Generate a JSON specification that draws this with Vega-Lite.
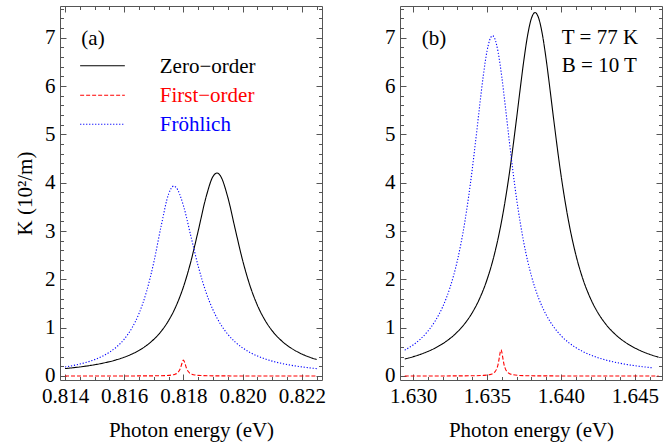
{
  "$schema": "https://vega.github.io/schema/vega-lite/v6.json",
  "padding": {"left": 14, "top": 5, "right": 5, "bottom": 5},
  "datasets": {
    "left": [
      {"s":"Zero−order","x":0.81400,"y":0.1537},{"s":"Zero−order","x":0.81425,"y":0.1693},{"s":"Zero−order","x":0.81450,"y":0.1872},{"s":"Zero−order","x":0.81475,"y":0.2081},{"s":"Zero−order","x":0.81500,"y":0.2326},{"s":"Zero−order","x":0.81525,"y":0.2616},{"s":"Zero−order","x":0.81550,"y":0.2963},{"s":"Zero−order","x":0.81575,"y":0.3381},{"s":"Zero−order","x":0.81600,"y":0.3890},{"s":"Zero−order","x":0.81625,"y":0.4519},{"s":"Zero−order","x":0.81650,"y":0.5305},{"s":"Zero−order","x":0.81675,"y":0.6302},{"s":"Zero−order","x":0.81700,"y":0.7585},{"s":"Zero−order","x":0.81725,"y":0.9263},{"s":"Zero−order","x":0.81750,"y":1.1485},{"s":"Zero−order","x":0.81775,"y":1.4463},{"s":"Zero−order","x":0.81800,"y":1.8446},{"s":"Zero−order","x":0.81825,"y":2.3670},{"s":"Zero−order","x":0.81850,"y":3.0066},{"s":"Zero−order","x":0.81875,"y":3.6701},{"s":"Zero−order","x":0.81900,"y":4.1302},{"s":"Zero−order","x":0.81913,"y":4.2},{"s":"Zero−order","x":0.81925,"y":4.1404},{"s":"Zero−order","x":0.81950,"y":3.6943},{"s":"Zero−order","x":0.81975,"y":3.0338},{"s":"Zero−order","x":0.82000,"y":2.3906},{"s":"Zero−order","x":0.82025,"y":1.8630},{"s":"Zero−order","x":0.82050,"y":1.4599},{"s":"Zero−order","x":0.82075,"y":1.1588},{"s":"Zero−order","x":0.82100,"y":0.9340},{"s":"Zero−order","x":0.82125,"y":0.7644},{"s":"Zero−order","x":0.82150,"y":0.6347},{"s":"Zero−order","x":0.82175,"y":0.5341},{"s":"Zero−order","x":0.82200,"y":0.4547},{"s":"Zero−order","x":0.82225,"y":0.3913},{"s":"Zero−order","x":0.82250,"y":0.3399},
      {"s":"First−order","x":0.8140,"y":0.0002},{"s":"First−order","x":0.8160,"y":0.0008},{"s":"First−order","x":0.8170,"y":0.0033},{"s":"First−order","x":0.8174,"y":0.0089},{"s":"First−order","x":0.8176,"y":0.0194},{"s":"First−order","x":0.8177,"y":0.033},{"s":"First−order","x":0.8178,"y":0.066},{"s":"First−order","x":0.81785,"y":0.1015},{"s":"First−order","x":0.8179,"y":0.165},{"s":"First−order","x":0.81795,"y":0.264},{"s":"First−order","x":0.8180,"y":0.33},{"s":"First−order","x":0.81805,"y":0.264},{"s":"First−order","x":0.8181,"y":0.165},{"s":"First−order","x":0.81815,"y":0.1015},{"s":"First−order","x":0.8182,"y":0.066},{"s":"First−order","x":0.8183,"y":0.033},{"s":"First−order","x":0.8184,"y":0.0194},{"s":"First−order","x":0.8186,"y":0.0089},{"s":"First−order","x":0.8190,"y":0.0033},{"s":"First−order","x":0.8200,"y":0.0008},{"s":"First−order","x":0.8225,"y":0.0002},
      {"s":"Fröhlich","x":0.81400,"y":0.1869},{"s":"Fröhlich","x":0.81425,"y":0.2136},{"s":"Fröhlich","x":0.81450,"y":0.2465},{"s":"Fröhlich","x":0.81475,"y":0.2873},{"s":"Fröhlich","x":0.81500,"y":0.3388},{"s":"Fröhlich","x":0.81525,"y":0.4048},{"s":"Fröhlich","x":0.81550,"y":0.4911},{"s":"Fröhlich","x":0.81575,"y":0.6063},{"s":"Fröhlich","x":0.81600,"y":0.7634},{"s":"Fröhlich","x":0.81625,"y":0.9828},{"s":"Fröhlich","x":0.81650,"y":1.2945},{"s":"Fröhlich","x":0.81675,"y":1.7397},{"s":"Fröhlich","x":0.81700,"y":2.3567},{"s":"Fröhlich","x":0.81725,"y":3.1134},{"s":"Fröhlich","x":0.81750,"y":3.7681},{"s":"Fröhlich","x":0.81767,"y":3.93},{"s":"Fröhlich","x":0.81775,"y":3.9035},{"s":"Fröhlich","x":0.81800,"y":3.5224},{"s":"Fröhlich","x":0.81825,"y":2.8950},{"s":"Fröhlich","x":0.81850,"y":2.2688},{"s":"Fröhlich","x":0.81875,"y":1.7547},{"s":"Fröhlich","x":0.81900,"y":1.3646},{"s":"Fröhlich","x":0.81925,"y":1.0758},{"s":"Fröhlich","x":0.81950,"y":0.8620},{"s":"Fröhlich","x":0.81975,"y":0.7020},{"s":"Fröhlich","x":0.82000,"y":0.5805},{"s":"Fröhlich","x":0.82025,"y":0.4867},{"s":"Fröhlich","x":0.82050,"y":0.4132},{"s":"Fröhlich","x":0.82075,"y":0.3546},{"s":"Fröhlich","x":0.82100,"y":0.3074},{"s":"Fröhlich","x":0.82125,"y":0.2688},{"s":"Fröhlich","x":0.82150,"y":0.2369},{"s":"Fröhlich","x":0.82175,"y":0.2102},{"s":"Fröhlich","x":0.82200,"y":0.1878},{"s":"Fröhlich","x":0.82225,"y":0.1687},{"s":"Fröhlich","x":0.82250,"y":0.1524}
    ],
    "right": [
      {"s":"Zero−order","x":1.62944,"y":0.3512},{"s":"Zero−order","x":1.63000,"y":0.3979},{"s":"Zero−order","x":1.63050,"y":0.4476},{"s":"Zero−order","x":1.63100,"y":0.5074},{"s":"Zero−order","x":1.63150,"y":0.5793},{"s":"Zero−order","x":1.63200,"y":0.6673},{"s":"Zero−order","x":1.63250,"y":0.7757},{"s":"Zero−order","x":1.63300,"y":0.9116},{"s":"Zero−order","x":1.63350,"y":1.0845},{"s":"Zero−order","x":1.63400,"y":1.3078},{"s":"Zero−order","x":1.63450,"y":1.6007},{"s":"Zero−order","x":1.63500,"y":1.9905},{"s":"Zero−order","x":1.63550,"y":2.5159},{"s":"Zero−order","x":1.63600,"y":3.2261},{"s":"Zero−order","x":1.63650,"y":4.1653},{"s":"Zero−order","x":1.63700,"y":5.3299},{"s":"Zero−order","x":1.63725,"y":5.954},{"s":"Zero−order","x":1.63750,"y":6.5511},{"s":"Zero−order","x":1.63775,"y":7.0563},{"s":"Zero−order","x":1.63800,"y":7.3984},{"s":"Zero−order","x":1.63825,"y":7.52},{"s":"Zero−order","x":1.63850,"y":7.3984},{"s":"Zero−order","x":1.63875,"y":7.0563},{"s":"Zero−order","x":1.63900,"y":6.5511},{"s":"Zero−order","x":1.63925,"y":5.954},{"s":"Zero−order","x":1.63950,"y":5.3299},{"s":"Zero−order","x":1.64000,"y":4.1653},{"s":"Zero−order","x":1.64050,"y":3.2261},{"s":"Zero−order","x":1.64100,"y":2.5159},{"s":"Zero−order","x":1.64150,"y":1.9905},{"s":"Zero−order","x":1.64200,"y":1.6007},{"s":"Zero−order","x":1.64250,"y":1.3078},{"s":"Zero−order","x":1.64300,"y":1.0845},{"s":"Zero−order","x":1.64350,"y":0.9116},{"s":"Zero−order","x":1.64400,"y":0.7757},{"s":"Zero−order","x":1.64450,"y":0.6673},{"s":"Zero−order","x":1.64500,"y":0.5793},{"s":"Zero−order","x":1.64550,"y":0.5074},{"s":"Zero−order","x":1.64600,"y":0.4476},{"s":"Zero−order","x":1.64660,"y":0.389},
      {"s":"First−order","x":1.62944,"y":0.0004},{"s":"First−order","x":1.63195,"y":0.0011},{"s":"First−order","x":1.63395,"y":0.0043},{"s":"First−order","x":1.63475,"y":0.0119},{"s":"First−order","x":1.63515,"y":0.026},{"s":"First−order","x":1.6354,"y":0.0522},{"s":"First−order","x":1.63555,"y":0.0909},{"s":"First−order","x":1.63565,"y":0.1429},{"s":"First−order","x":1.63575,"y":0.2416},{"s":"First−order","x":1.63585,"y":0.4125},{"s":"First−order","x":1.6359,"y":0.5014},{"s":"First−order","x":1.63595,"y":0.54},{"s":"First−order","x":1.6360,"y":0.5014},{"s":"First−order","x":1.63605,"y":0.4125},{"s":"First−order","x":1.63615,"y":0.2416},{"s":"First−order","x":1.63625,"y":0.1429},{"s":"First−order","x":1.63635,"y":0.0909},{"s":"First−order","x":1.6365,"y":0.0522},{"s":"First−order","x":1.63675,"y":0.026},{"s":"First−order","x":1.63715,"y":0.0119},{"s":"First−order","x":1.63795,"y":0.0043},{"s":"First−order","x":1.63995,"y":0.0011},{"s":"First−order","x":1.6466,"y":0.0002},
      {"s":"Fröhlich","x":1.62944,"y":0.5346},{"s":"Fröhlich","x":1.63000,"y":0.6413},{"s":"Fröhlich","x":1.63050,"y":0.7646},{"s":"Fröhlich","x":1.63100,"y":0.9253},{"s":"Fröhlich","x":1.63150,"y":1.1388},{"s":"Fröhlich","x":1.63200,"y":1.4280},{"s":"Fröhlich","x":1.63250,"y":1.8286},{"s":"Fröhlich","x":1.63300,"y":2.3913},{"s":"Fröhlich","x":1.63350,"y":3.1855},{"s":"Fröhlich","x":1.63400,"y":4.2680},{"s":"Fröhlich","x":1.63425,"y":4.9093},{"s":"Fröhlich","x":1.63450,"y":5.5789},{"s":"Fröhlich","x":1.63475,"y":6.2136},{"s":"Fröhlich","x":1.63500,"y":6.7216},{"s":"Fröhlich","x":1.63537,"y":7.04},{"s":"Fröhlich","x":1.63550,"y":6.9991},{"s":"Fröhlich","x":1.63575,"y":6.7050},{"s":"Fröhlich","x":1.63600,"y":6.1900},{"s":"Fröhlich","x":1.63625,"y":5.5521},{"s":"Fröhlich","x":1.63650,"y":4.8828},{"s":"Fröhlich","x":1.63700,"y":3.6680},{"s":"Fröhlich","x":1.63750,"y":2.7395},{"s":"Fröhlich","x":1.63800,"y":2.0746},{"s":"Fröhlich","x":1.63850,"y":1.6036},{"s":"Fröhlich","x":1.63900,"y":1.2663},{"s":"Fröhlich","x":1.63950,"y":1.0200},{"s":"Fröhlich","x":1.64000,"y":0.8364},{"s":"Fröhlich","x":1.64050,"y":0.6966},{"s":"Fröhlich","x":1.64100,"y":0.5882},{"s":"Fröhlich","x":1.64150,"y":0.5028},{"s":"Fröhlich","x":1.64200,"y":0.4343},{"s":"Fröhlich","x":1.64250,"y":0.3787},{"s":"Fröhlich","x":1.64300,"y":0.3330},{"s":"Fröhlich","x":1.64350,"y":0.2949},{"s":"Fröhlich","x":1.64400,"y":0.2630},{"s":"Fröhlich","x":1.64450,"y":0.2359},{"s":"Fröhlich","x":1.64500,"y":0.2128},{"s":"Fröhlich","x":1.64550,"y":0.1928},{"s":"Fröhlich","x":1.64600,"y":0.1756},{"s":"Fröhlich","x":1.64620,"y":0.1693}
    ],
    "legendLines": [
      {"s":"Zero−order","x":0.81451,"y":6.42},{"s":"Zero−order","x":0.81602,"y":6.42},
      {"s":"First−order","x":0.81451,"y":5.81},{"s":"First−order","x":0.81602,"y":5.81},
      {"s":"Fröhlich","x":0.81451,"y":5.21},{"s":"Fröhlich","x":0.81602,"y":5.21}
    ],
    "legendText": [
      {"s":"Zero−order","x":0.8172,"y":6.40},
      {"s":"First−order","x":0.8172,"y":5.80},
      {"s":"Fröhlich","x":0.8172,"y":5.20}
    ],
    "leftNotes": [{"t":"(a)","x":0.81455,"y":6.98}],
    "rightNotes": [
      {"t":"(b)","x":1.63059,"y":6.98},
      {"t":"T = 77 K","x":1.64006,"y":7.0},
      {"t":"B = 10 T","x":1.64006,"y":6.41}
    ]
  },
  "hconcat": [
    {
      "width": 262,
      "height": 374,
      "resolve": {"axis": {"x": "independent", "y": "independent"}},
      "layer": [
        {
          "data": {"name": "left"},
          "mark": {"type": "line", "interpolate": "monotone", "strokeWidth": 1.1},
          "encoding": {
            "x": {"field": "x", "type": "quantitative", "scale": {"domain": [0.81383, 0.82268], "nice": false, "zero": false},
                  "axis": {"orient": "bottom", "values": [0.814, 0.816, 0.818, 0.82, 0.822], "format": ".3f", "ticks": false, "domain": false, "labelPadding": 5, "labelFlush": false, "title": "Photon energy (eV)", "titlePadding": 13}},
            "y": {"field": "y", "type": "quantitative", "scale": {"domain": [-0.083, 7.656], "nice": false, "zero": false},
                  "axis": {"orient": "left", "values": [0,1,2,3,4,5,6,7], "format": "d", "ticks": false, "domain": false, "labelPadding": 5, "title": "K (10²/m)", "titlePadding": 9}},
            "color": {"field": "s", "type": "nominal", "scale": {"domain": ["Zero−order", "First−order", "Fröhlich"], "range": ["#000000", "#ff0000", "#0000ff"]}, "legend": null},
            "strokeDash": {"field": "s", "type": "nominal", "scale": {"domain": ["Zero−order", "First−order", "Fröhlich"], "range": [[1, 0], [4, 2], [1.2, 1.8]]}, "legend": null}
          }
        },
        {
          "data": {"name": "legendLines"},
          "mark": {"type": "line", "strokeWidth": 1.1},
          "encoding": {
            "x": {"field": "x", "type": "quantitative", "scale": {"domain": [0.81383, 0.82268], "nice": false, "zero": false},
                  "axis": {"orient": "bottom", "values": [0.814, 0.816, 0.818, 0.82, 0.822], "labels": false, "domain": false, "ticks": true, "tickSize": 6, "offset": -6, "title": null}},
            "y": {"field": "y", "type": "quantitative", "scale": {"domain": [-0.083, 7.656], "nice": false, "zero": false},
                  "axis": {"orient": "left", "values": [0,1,2,3,4,5,6,7], "labels": false, "domain": false, "ticks": true, "tickSize": 6, "offset": -6, "title": null}},
            "color": {"field": "s", "type": "nominal", "scale": {"domain": ["Zero−order", "First−order", "Fröhlich"], "range": ["#000000", "#ff0000", "#0000ff"]}, "legend": null},
            "strokeDash": {"field": "s", "type": "nominal", "scale": {"domain": ["Zero−order", "First−order", "Fröhlich"], "range": [[1, 0], [4, 2], [1.2, 1.8]]}, "legend": null}
          }
        },
        {
          "data": {"name": "legendText"},
          "mark": {"type": "text", "align": "left", "baseline": "middle", "font": "Liberation Serif, Times New Roman, Times, DejaVu Serif, serif", "fontSize": 21},
          "encoding": {
            "x": {"field": "x", "type": "quantitative", "scale": {"domain": [0.81383, 0.82268], "nice": false, "zero": false},
                  "axis": {"orient": "top", "values": [0.814, 0.816, 0.818, 0.82, 0.822], "labels": false, "domain": false, "ticks": true, "tickSize": 6, "offset": -6, "title": null}},
            "y": {"field": "y", "type": "quantitative", "scale": {"domain": [-0.083, 7.656], "nice": false, "zero": false},
                  "axis": {"orient": "right", "values": [0,1,2,3,4,5,6,7], "labels": false, "domain": false, "ticks": true, "tickSize": 6, "offset": -6, "title": null}},
            "text": {"field": "s"},
            "color": {"field": "s", "type": "nominal", "scale": {"domain": ["Zero−order", "First−order", "Fröhlich"], "range": ["#000000", "#ff0000", "#0000ff"]}, "legend": null}
          }
        },
        {
          "data": {"name": "leftNotes"},
          "mark": {"type": "text", "align": "left", "baseline": "middle", "font": "Liberation Serif, Times New Roman, Times, DejaVu Serif, serif", "fontSize": 21, "color": "#000000"},
          "encoding": {
            "x": {"field": "x", "type": "quantitative", "scale": {"domain": [0.81383, 0.82268], "nice": false, "zero": false},
                  "axis": {"orient": "bottom", "values": [0.814,0.8145,0.815,0.8155,0.816,0.8165,0.817,0.8175,0.818,0.8185,0.819,0.8195,0.82,0.8205,0.821,0.8215,0.822,0.8225], "labels": false, "domain": false, "ticks": true, "tickSize": 3.5, "offset": -3.5, "title": null}},
            "y": {"field": "y", "type": "quantitative", "scale": {"domain": [-0.083, 7.656], "nice": false, "zero": false},
                  "axis": {"orient": "left", "values": [0,0.2,0.4,0.6,0.8,1,1.2,1.4,1.6,1.8,2,2.2,2.4,2.6,2.8,3,3.2,3.4,3.6,3.8,4,4.2,4.4,4.6,4.8,5,5.2,5.4,5.6,5.8,6,6.2,6.4,6.6,6.8,7,7.2,7.4,7.6], "labels": false, "domain": false, "ticks": true, "tickSize": 3.5, "offset": -3.5, "title": null}},
            "text": {"field": "t"}
          }
        },
        {
          "data": {"name": "leftNotes"},
          "mark": {"type": "point", "opacity": 0},
          "encoding": {
            "x": {"field": "x", "type": "quantitative", "scale": {"domain": [0.81383, 0.82268], "nice": false, "zero": false},
                  "axis": {"orient": "top", "values": [0.814,0.8145,0.815,0.8155,0.816,0.8165,0.817,0.8175,0.818,0.8185,0.819,0.8195,0.82,0.8205,0.821,0.8215,0.822,0.8225], "labels": false, "domain": false, "ticks": true, "tickSize": 3.5, "offset": -3.5, "title": null}},
            "y": {"field": "y", "type": "quantitative", "scale": {"domain": [-0.083, 7.656], "nice": false, "zero": false},
                  "axis": {"orient": "right", "values": [0,0.2,0.4,0.6,0.8,1,1.2,1.4,1.6,1.8,2,2.2,2.4,2.6,2.8,3,3.2,3.4,3.6,3.8,4,4.2,4.4,4.6,4.8,5,5.2,5.4,5.6,5.8,6,6.2,6.4,6.6,6.8,7,7.2,7.4,7.6], "labels": false, "domain": false, "ticks": true, "tickSize": 3.5, "offset": -3.5, "title": null}}
          }
        }
      ]
    },
    {
      "width": 262,
      "height": 374,
      "resolve": {"axis": {"x": "independent", "y": "independent"}},
      "layer": [
        {
          "data": {"name": "right"},
          "mark": {"type": "line", "interpolate": "monotone", "strokeWidth": 1.1},
          "encoding": {
            "x": {"field": "x", "type": "quantitative", "scale": {"domain": [1.62912, 1.64683], "nice": false, "zero": false},
                  "axis": {"orient": "bottom", "values": [1.63, 1.635, 1.64, 1.645], "format": ".3f", "ticks": false, "domain": false, "labelPadding": 5, "labelFlush": false, "title": "Photon energy (eV)", "titlePadding": 13}},
            "y": {"field": "y", "type": "quantitative", "scale": {"domain": [-0.083, 7.656], "nice": false, "zero": false},
                  "axis": {"orient": "left", "values": [0,1,2,3,4,5,6,7], "format": "d", "ticks": false, "domain": false, "labelPadding": 5, "title": null}},
            "color": {"field": "s", "type": "nominal", "scale": {"domain": ["Zero−order", "First−order", "Fröhlich"], "range": ["#000000", "#ff0000", "#0000ff"]}, "legend": null},
            "strokeDash": {"field": "s", "type": "nominal", "scale": {"domain": ["Zero−order", "First−order", "Fröhlich"], "range": [[1, 0], [4, 2], [1.2, 1.8]]}, "legend": null}
          }
        },
        {
          "data": {"name": "rightNotes"},
          "mark": {"type": "text", "align": "left", "baseline": "middle", "font": "Liberation Serif, Times New Roman, Times, DejaVu Serif, serif", "fontSize": 21, "color": "#000000"},
          "encoding": {
            "x": {"field": "x", "type": "quantitative", "scale": {"domain": [1.62912, 1.64683], "nice": false, "zero": false},
                  "axis": {"orient": "bottom", "values": [1.63, 1.635, 1.64, 1.645], "labels": false, "domain": false, "ticks": true, "tickSize": 6, "offset": -6, "title": null}},
            "y": {"field": "y", "type": "quantitative", "scale": {"domain": [-0.083, 7.656], "nice": false, "zero": false},
                  "axis": {"orient": "left", "values": [0,1,2,3,4,5,6,7], "labels": false, "domain": false, "ticks": true, "tickSize": 6, "offset": -6, "title": null}},
            "text": {"field": "t"}
          }
        },
        {
          "data": {"name": "rightNotes"},
          "mark": {"type": "point", "opacity": 0},
          "encoding": {
            "x": {"field": "x", "type": "quantitative", "scale": {"domain": [1.62912, 1.64683], "nice": false, "zero": false},
                  "axis": {"orient": "top", "values": [1.63, 1.635, 1.64, 1.645], "labels": false, "domain": false, "ticks": true, "tickSize": 6, "offset": -6, "title": null}},
            "y": {"field": "y", "type": "quantitative", "scale": {"domain": [-0.083, 7.656], "nice": false, "zero": false},
                  "axis": {"orient": "right", "values": [0,1,2,3,4,5,6,7], "labels": false, "domain": false, "ticks": true, "tickSize": 6, "offset": -6, "title": null}}
          }
        },
        {
          "data": {"name": "rightNotes"},
          "mark": {"type": "point", "opacity": 0},
          "encoding": {
            "x": {"field": "x", "type": "quantitative", "scale": {"domain": [1.62912, 1.64683], "nice": false, "zero": false},
                  "axis": {"orient": "bottom", "values": [1.63,1.631,1.632,1.633,1.634,1.635,1.636,1.637,1.638,1.639,1.64,1.641,1.642,1.643,1.644,1.645,1.646], "labels": false, "domain": false, "ticks": true, "tickSize": 3.5, "offset": -3.5, "title": null}},
            "y": {"field": "y", "type": "quantitative", "scale": {"domain": [-0.083, 7.656], "nice": false, "zero": false},
                  "axis": {"orient": "left", "values": [0,0.2,0.4,0.6,0.8,1,1.2,1.4,1.6,1.8,2,2.2,2.4,2.6,2.8,3,3.2,3.4,3.6,3.8,4,4.2,4.4,4.6,4.8,5,5.2,5.4,5.6,5.8,6,6.2,6.4,6.6,6.8,7,7.2,7.4,7.6], "labels": false, "domain": false, "ticks": true, "tickSize": 3.5, "offset": -3.5, "title": null}}
          }
        },
        {
          "data": {"name": "rightNotes"},
          "mark": {"type": "point", "opacity": 0},
          "encoding": {
            "x": {"field": "x", "type": "quantitative", "scale": {"domain": [1.62912, 1.64683], "nice": false, "zero": false},
                  "axis": {"orient": "top", "values": [1.63,1.631,1.632,1.633,1.634,1.635,1.636,1.637,1.638,1.639,1.64,1.641,1.642,1.643,1.644,1.645,1.646], "labels": false, "domain": false, "ticks": true, "tickSize": 3.5, "offset": -3.5, "title": null}},
            "y": {"field": "y", "type": "quantitative", "scale": {"domain": [-0.083, 7.656], "nice": false, "zero": false},
                  "axis": {"orient": "right", "values": [0,0.2,0.4,0.6,0.8,1,1.2,1.4,1.6,1.8,2,2.2,2.4,2.6,2.8,3,3.2,3.4,3.6,3.8,4,4.2,4.4,4.6,4.8,5,5.2,5.4,5.6,5.8,6,6.2,6.4,6.6,6.8,7,7.2,7.4,7.6], "labels": false, "domain": false, "ticks": true, "tickSize": 3.5, "offset": -3.5, "title": null}}
          }
        }
      ]
    }
  ],
  "spacing": 58,
  "config": {
    "font": "Liberation Serif, Times New Roman, Times, DejaVu Serif, serif",
    "view": {"stroke": "#555555", "strokeWidth": 1},
    "axis": {"labelFont": "Liberation Serif, Times New Roman, Times, DejaVu Serif, serif", "labelFontSize": 21, "labelColor": "#000000", "titleFont": "Liberation Serif, Times New Roman, Times, DejaVu Serif, serif", "titleFontSize": 21, "titleFontWeight": "normal", "titleColor": "#000000", "grid": false, "tickColor": "#555555", "tickWidth": 1, "labelOverlap": false, "labelBound": false}
  }
}
